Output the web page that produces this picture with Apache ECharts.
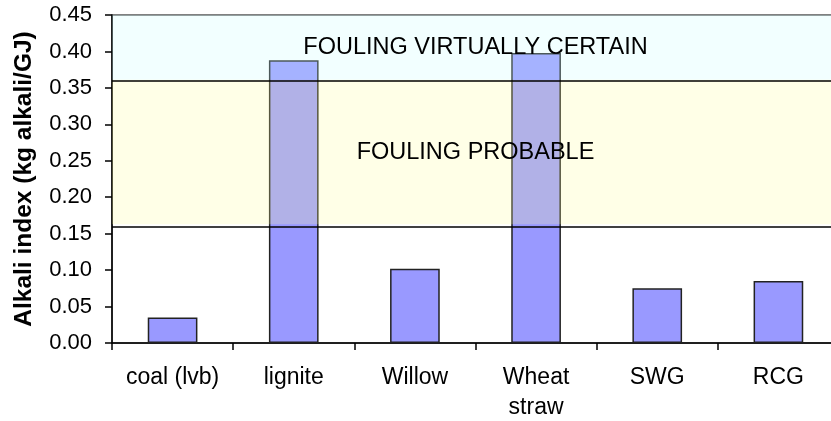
<!DOCTYPE html>
<html>
<head>
<meta charset="utf-8">
<script src="https://cdn.jsdelivr.net/npm/echarts@6/dist/echarts.min.js"></script>
<style>
  html, body { margin: 0; padding: 0; background: #fff; }
  #chart { width: 831px; height: 421px; }
</style>
</head>
<body>
<div id="chart"></div>
<script>
// Fuel categories and their alkali index (kg alkali / GJ)
const categories = ['coal (lvb)', 'lignite', 'Willow', 'Wheat\nstraw', 'SWG', 'RCG'];
const alkaliIndex = [0.035, 0.388, 0.102, 0.398, 0.075, 0.085];

// Fouling thresholds on the alkali index
const probableFrom = 0.163;
const certainFrom = 0.361;
const axisMax = 0.45;
const bandLabels = ['FOULING PROBABLE', 'FOULING VIRTUALLY CERTAIN'];

const font = 'Liberation Sans, Arial, sans-serif';
const chart = echarts.init(document.getElementById('chart'), null, { renderer: 'canvas' });

chart.setOption({
  animation: false,
  backgroundColor: '#ffffff',
  grid: {
    left: 112, top: 15, right: -8, bottom: 78,
    containLabel: false,
    outerBoundsMode: 'none',
    show: true,
    borderColor: '#000000',
    borderWidth: 1,
    backgroundColor: 'transparent'
  },
  xAxis: {
    type: 'category',
    data: categories,
    boundaryGap: true,
    axisLine: { show: true, lineStyle: { color: '#000000', width: 1.5 } },
    axisTick: { show: true, length: 7, alignWithLabel: false, lineStyle: { color: '#000000', width: 1.5 } },
    axisLabel: {
      interval: 0,
      margin: 20,
      fontFamily: font,
      fontSize: 23,
      lineHeight: 30,
      color: '#000000'
    },
    splitLine: { show: false }
  },
  yAxis: {
    type: 'value',
    min: 0,
    max: axisMax,
    interval: 0.05,
    name: 'Alkali index (kg alkali/GJ)',
    nameLocation: 'middle',
    nameGap: 75,
    nameTextStyle: { fontFamily: font, fontSize: 24.5, fontWeight: 'bold', color: '#000000' },
    axisLine: { show: true, lineStyle: { color: '#000000', width: 1.5 } },
    axisTick: { show: true, length: 7, lineStyle: { color: '#000000', width: 1.5 } },
    axisLabel: {
      margin: 20,
      fontFamily: font,
      fontSize: 22,
      color: '#000000',
      formatter: v => v.toFixed(2)
    },
    splitLine: { show: false }
  },
  series: [
    {
      name: 'Alkali index',
      type: 'bar',
      data: alkaliIndex,
      barWidth: '41%',
      itemStyle: { color: '#9999ff', borderColor: '#222222', borderWidth: 1.5 },
      z: 2
    },
    {
      // translucent fouling bands and their boundary lines, laid over the bars
      name: 'Fouling bands',
      type: 'line',
      data: [],
      silent: true,
      z: 5,
      markArea: {
        silent: true,
        z: 6,
        label: {
          show: true,
          position: 'inside',
          fontFamily: font,
          fontSize: 23.5,
          color: '#000000'
        },
        data: [
          [
            { yAxis: probableFrom, name: bandLabels[0], itemStyle: { color: 'rgba(255,255,153,0.24)' } },
            { yAxis: certainFrom }
          ],
          [
            { yAxis: certainFrom, name: bandLabels[1], itemStyle: { color: 'rgba(204,255,255,0.25)' } },
            { yAxis: axisMax }
          ]
        ]
      },
      markLine: {
        silent: true,
        z: 7,
        symbol: 'none',
        label: { show: false },
        lineStyle: { color: '#000000', width: 1.5, type: 'solid' },
        data: [{ yAxis: probableFrom }, { yAxis: certainFrom }]
      }
    }
  ]
});
</script>
</body>
</html>
